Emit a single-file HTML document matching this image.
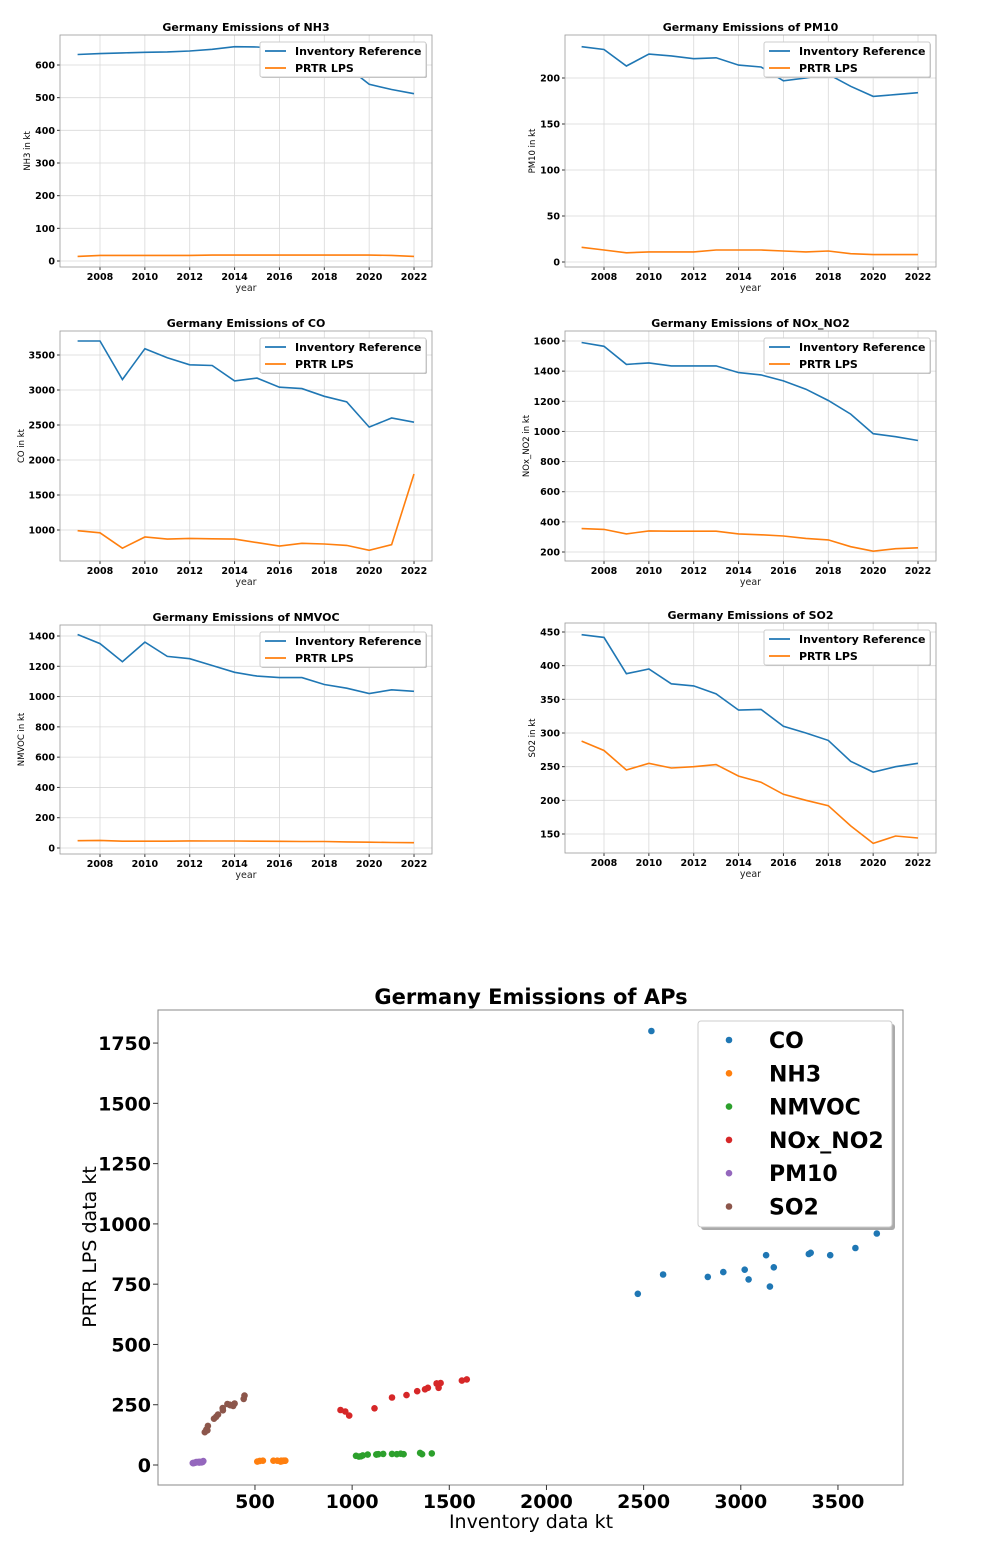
<!DOCTYPE html>
<html><head><meta charset="utf-8"><style>
body{margin:0;background:#fff;}
svg text{font-family:"DejaVu Sans","Liberation Sans",sans-serif;}
</style></head><body>
<svg id="s" width="1000" height="1553" xmlns="http://www.w3.org/2000/svg"></svg>
<script>
const S=document.getElementById('s');let h='';
const B='#1f77b4',O='#ff7f0e';
function chart(x0,x1,y0,y1,name,v1,yPix,ticks,inv,prtr,ylab){
 const [va,pa,vb,pb]=yPix;const ky=(pb-pa)/(vb-va);const Y=v=>pa+(v-va)*ky;
 const X=yr=>(x0<300?100:604)+(yr-2008)*22.43;
 h+=`<text x="${(x0+x1)/2}" y="${y0-4}" font-size="11" font-weight="bold" text-anchor="middle">Germany Emissions of ${name}</text>`;
 for(const t of ticks){const y=Y(t);h+=`<line x1="${x0}" x2="${x1}" y1="${y}" y2="${y}" stroke="#d9d9d9" stroke-width="0.8"/><line x1="${x0-3}" x2="${x0}" y1="${y}" y2="${y}" stroke="#333"/><text x="${x0-5}" y="${y+3.5}" font-size="9.5" font-weight="bold" text-anchor="end">${t}</text>`;}
 for(let yr=2008;yr<=2022;yr+=2){const x=X(yr);h+=`<line x1="${x}" x2="${x}" y1="${y0}" y2="${y1}" stroke="#d9d9d9" stroke-width="0.8"/><line x1="${x}" x2="${x}" y1="${y1}" y2="${y1+3}" stroke="#333"/><text x="${x}" y="${y1+13}" font-size="9.5" font-weight="bold" text-anchor="middle">${yr}</text>`;}
 h+=`<text x="${(x0+x1)/2}" y="${y1+24}" font-size="9.5" text-anchor="middle" fill="#222">year</text>`;
 const off=ticks[ticks.length-1]>=1000?36:30;
 h+=`<text transform="translate(${x0-off},${(y0+y1)/2}) rotate(-90)" font-size="8.5" text-anchor="middle">${ylab}</text>`;
 const pl=(d,c)=>`<polyline fill="none" stroke="${c}" stroke-width="1.6" points="${d.map((v,i)=>X(2007+i).toFixed(1)+','+Y(v).toFixed(1)).join(' ')}"/>`;
 h+=pl(inv,B)+pl(prtr,O);
 h+=`<rect x="${x0}" y="${y0}" width="${x1-x0}" height="${y1-y0}" fill="none" stroke="#999" stroke-width="0.8"/>`;
 const lx=x1-172,ly=y0+7;
 h+=`<rect x="${lx+1}" y="${ly+1}" width="166" height="35" fill="#bbb" rx="2"/><rect x="${lx}" y="${ly}" width="166" height="35" fill="#fff" stroke="#ccc" rx="2"/>`;
 h+=`<line x1="${lx+5}" x2="${lx+26}" y1="${ly+9}" y2="${ly+9}" stroke="${B}" stroke-width="1.8"/><text x="${lx+35}" y="${ly+13}" font-size="11" font-weight="bold">Inventory Reference</text>`;
 h+=`<line x1="${lx+5}" x2="${lx+26}" y1="${ly+26}" y2="${ly+26}" stroke="${O}" stroke-width="1.8"/><text x="${lx+35}" y="${ly+30}" font-size="11" font-weight="bold">PRTR LPS</text>`;
}
const D={
NH3:[[632,635,637,639,640,643,648,656,655,650,635,615,595,541,525,512],[14,17,17,17,17,17,18,18,18,18,18,18,18,18,17,14]],
PM10:[[234,231,213,226,224,221,222,214,212,197,200,204,191,180,182,184],[16,13,10,11,11,11,13,13,13,12,11,12,9,8,8,8]],
CO:[[3700,3700,3150,3590,3460,3360,3350,3130,3170,3040,3020,2910,2830,2470,2600,2540],[990,960,740,900,870,880,875,870,820,770,810,800,780,710,790,1800]],
NOx_NO2:[[1590,1565,1445,1455,1435,1435,1435,1390,1375,1335,1280,1205,1115,985,965,940],[355,350,320,340,338,338,338,320,314,306,290,280,235,205,222,228]],
NMVOC:[[1410,1350,1230,1360,1265,1250,1205,1160,1135,1125,1125,1080,1055,1020,1045,1035],[48,50,45,45,45,47,46,46,45,44,43,43,40,38,36,35]],
SO2:[[446,442,388,395,373,370,358,334,335,310,300,289,258,242,250,255],[288,274,245,255,248,250,253,236,227,209,200,192,162,136,147,144]]};
chart(60,432,35,267,'NH3',0,[0,261,600,65],[0,100,200,300,400,500,600],...D.NH3,'NH3 in kt');
chart(565,936,35,267,'PM10',0,[0,262,200,78],[0,50,100,150,200],...D.PM10,'PM10 in kt');
chart(60,432,331,561,'CO',0,[1000,530,3500,355],[1000,1500,2000,2500,3000,3500],...D.CO,'CO in kt');
chart(565,936,331,561,'NOx_NO2',0,[200,552,1600,341],[200,400,600,800,1000,1200,1400,1600],...D.NOx_NO2,'NOx_NO2 in kt');
chart(60,432,625,854,'NMVOC',0,[0,848,1400,636],[0,200,400,600,800,1000,1200,1400],...D.NMVOC,'NMVOC in kt');
chart(565,936,623,853,'SO2',0,[150,834,450,632],[150,200,250,300,350,400,450],...D.SO2,'SO2 in kt');
const sx=v=>157.8+v*0.19433, sy=v=>1465-v*0.2411;
h+=`<text x="531" y="1004" font-size="21" font-weight="bold" text-anchor="middle">Germany Emissions of APs</text>`;
h+=`<rect x="158" y="1010" width="745" height="475" fill="none" stroke="#888"/>`;
for(const t of [0,250,500,750,1000,1250,1500,1750]){const y=sy(t);h+=`<line x1="153" x2="158" y1="${y}" y2="${y}" stroke="#333"/><text x="151" y="${y+7}" font-size="19" font-weight="bold" text-anchor="end">${t}</text>`;}
for(const t of [500,1000,1500,2000,2500,3000,3500]){const x=sx(t);h+=`<line x1="${x}" x2="${x}" y1="1485" y2="1490" stroke="#333"/><text x="${x}" y="1508" font-size="19" font-weight="bold" text-anchor="middle">${t}</text>`;}
h+=`<text x="531" y="1528" font-size="19" text-anchor="middle">Inventory data kt</text>`;
h+=`<text transform="translate(96,1247) rotate(-90)" font-size="19" text-anchor="middle">PRTR LPS data kt</text>`;
const cols={CO:B,NH3:O,NMVOC:'#2ca02c',NOx_NO2:'#d62728',PM10:'#9467bd',SO2:'#8c564b'};
for(const k in cols){const [a,b]=D[k];a.forEach((v,i)=>{h+=`<circle cx="${sx(v).toFixed(1)}" cy="${sy(b[i]).toFixed(1)}" r="3.3" fill="${cols[k]}"/>`;});}
h+=`<rect x="701" y="1024" width="194" height="206" fill="#aaa" rx="3"/><rect x="698" y="1021" width="194" height="206" fill="#fff" stroke="#ccc" rx="3"/>`;
let ly=1040;for(const k in cols){h+=`<circle cx="729" cy="${ly}" r="3.3" fill="${cols[k]}"/><text x="769" y="${ly+8}" font-size="22" font-weight="bold">${k}</text>`;ly+=33.3;}
S.innerHTML=h;
</script>
</body></html>
